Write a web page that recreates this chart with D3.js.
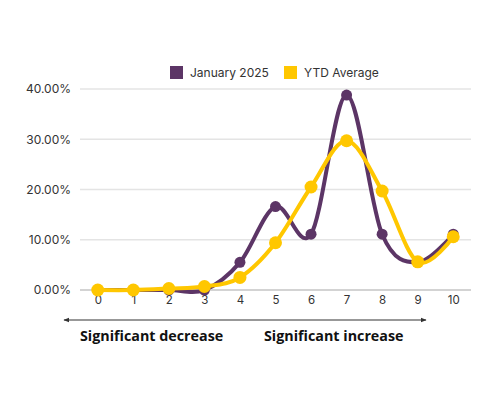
<!DOCTYPE html>
<html>
<head>
<meta charset="utf-8">
<script src="https://cdn.jsdelivr.net/npm/d3@7"></script>
<style>
  body { margin: 0; background: #fff; }
  svg { display: block; }
</style>
</head>
<body>
<script>
// scores 0..10 and share of responses (%)
var categories = ["0", "1", "2", "3", "4", "5", "6", "7", "8", "9", "10"];
var january2025 = [0, 0, 0, 0, 5.5, 16.6, 11.1, 38.8, 11.1, 5.5, 11.1];
var ytdAverage = [0, 0, 0.3, 0.7, 2.5, 9.4, 20.5, 29.7, 19.7, 5.6, 10.6];
var yTicks = [0, 10, 20, 30, 40];
var seriesNames = ["January 2025", "YTD Average"];
var seriesColors = ["#5c3566", "#ffc700"];

var width = 500, height = 400;

var svg = d3.select("body").append("svg")
    .attr("width", width)
    .attr("height", height);

var x = d3.scalePoint()
    .domain(categories)
    .range([80, 471])
    .padding(0.5);

var y = d3.scaleLinear()
    .domain([0, 40])
    .range([290, 89]);

// grid lines
svg.append("g")
  .selectAll("line")
  .data(yTicks)
  .enter().append("line")
    .attr("x1", 80)
    .attr("x2", 471)
    .attr("y1", function(d) { return y(d); })
    .attr("y2", function(d) { return y(d); })
    .attr("stroke", function(d) { return d === 0 ? "#c4c4c4" : "#e4e4e4"; })
    .attr("stroke-width", 1.5);

// y axis labels
var yAxis = svg.append("g")
    .attr("transform", "translate(80,0)")
    .call(d3.axisLeft(y).tickValues(yTicks).tickSize(0).tickPadding(9)
      .tickFormat(function(d) { return d.toFixed(2) + "%"; }));
yAxis.select(".domain").remove();
yAxis.selectAll("text")
    .attr("font-family", "Inter, sans-serif")
    .attr("font-size", "12px")
    .attr("fill", "#333");

// x axis labels
var xAxis = svg.append("g")
    .attr("transform", "translate(0,290)")
    .call(d3.axisBottom(x).tickSize(0).tickPadding(6));
xAxis.select(".domain").remove();
xAxis.selectAll("text")
    .attr("font-family", "Inter, sans-serif")
    .attr("font-size", "11.5px")
    .attr("fill", "#333");

// lines
var line = d3.line()
    .x(function(d, i) { return x(categories[i]); })
    .y(function(d) { return y(d); })
    .curve(d3.curveCardinal);

var series = [january2025, ytdAverage];

series.forEach(function(vals, s) {
  var g = svg.append("g");
  g.append("path")
      .datum(vals)
      .attr("d", line)
      .attr("fill", "none")
      .attr("stroke", seriesColors[s])
      .attr("stroke-width", 4);
  g.selectAll("circle")
      .data(vals)
      .enter().append("circle")
      .attr("cx", function(d, i) { return x(categories[i]); })
      .attr("cy", function(d) { return y(d); })
      .attr("r", s === 0 ? 5.5 : 6.5)
      .attr("fill", seriesColors[s]);
});

// legend
var legendX = [170, 284];
var legend = svg.append("g");
seriesNames.forEach(function(name, i) {
  legend.append("rect")
      .attr("x", legendX[i])
      .attr("y", 66)
      .attr("width", 13)
      .attr("height", 13)
      .attr("fill", seriesColors[i]);
  legend.append("text")
      .attr("x", legendX[i] + 20)
      .attr("y", 72.5)
      .attr("dy", "0.35em")
      .attr("font-family", "Inter, sans-serif")
      .attr("font-size", "12px")
      .attr("fill", "#333")
      .text(name);
});

// arrow under axis
var defs = svg.append("defs");
defs.append("marker")
    .attr("id", "arrow")
    .attr("viewBox", "0 0 10 10")
    .attr("refX", 9).attr("refY", 5)
    .attr("markerWidth", 5).attr("markerHeight", 5)
    .attr("orient", "auto-start-reverse")
  .append("path")
    .attr("d", "M0,1 L10,5 L0,9 z")
    .attr("fill", "#333");

svg.append("line")
    .attr("x1", 64).attr("x2", 426)
    .attr("y1", 320).attr("y2", 320)
    .attr("stroke", "#333")
    .attr("stroke-width", 1.2)
    .attr("marker-start", "url(#arrow)")
    .attr("marker-end", "url(#arrow)");

svg.append("text")
    .attr("x", 80).attr("y", 341)
    .attr("font-family", "Open Sans, sans-serif")
    .attr("font-weight", "bold")
    .attr("font-size", "14.3px")
    .attr("fill", "#111")
    .text("Significant decrease");

svg.append("text")
    .attr("x", 264).attr("y", 341)
    .attr("font-family", "Open Sans, sans-serif")
    .attr("font-weight", "bold")
    .attr("font-size", "14.3px")
    .attr("fill", "#111")
    .text("Significant increase");
</script>
</body>
</html>
